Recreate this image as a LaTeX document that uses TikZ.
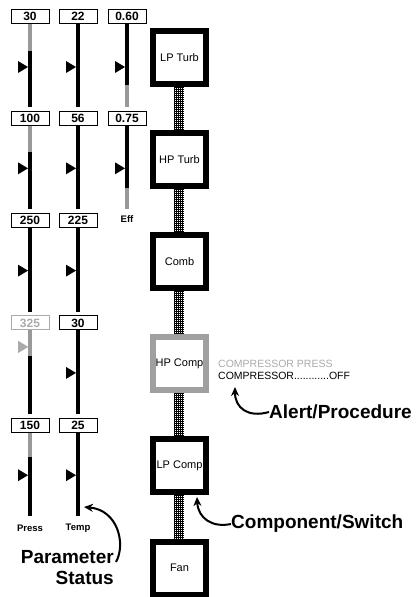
\documentclass[tikz,border=0pt]{standalone}
\usepackage{fontspec}
\setmainfont{Liberation Sans}
\usetikzlibrary{arrows.meta,patterns}
\pgfdeclarepatternformonly{shaftdots}{\pgfpoint{-0.1pt}{-0.1pt}}{\pgfpoint{2.1pt}{2.1pt}}{\pgfpoint{2pt}{2pt}}{\pgfpathrectangle{\pgfpoint{0.6pt}{0.6pt}}{\pgfpoint{0.8pt}{0.8pt}}\pgfusepath{fill}}
\definecolor{bargray}{HTML}{999999}
\definecolor{dimgray}{HTML}{AAAAAA}
\definecolor{compgray}{HTML}{A0A0A0}
\tikzset{
  valbox/.style={draw, line width=1pt, fill=white, minimum width=38pt, minimum height=14pt, inner sep=0pt, font=\fontsize{12}{12}\selectfont\bfseries},
  gbar/.style={line width=4pt},
  comp/.style={draw, line width=6pt, fill=white, minimum size=53pt, inner sep=0pt, font=\fontsize{11}{11}\selectfont},
  collabel/.style={font=\fontsize{9.5}{9.5}\selectfont\bfseries},
  callout/.style={font=\fontsize{19}{21}\selectfont\bfseries, inner sep=0pt},
  alarmtext/.style={font=\fontsize{10.5}{10.5}\selectfont, inner sep=0pt, anchor=west},
  callarrow/.style={line width=2pt, -{Stealth[length=9pt,width=8pt]}},
}
% #1 name, #2 x, #3 row top, #4 value, #5 pointer offset, #6 colour
\newcommand{\mygauge}[6]{%
  \node[valbox, draw=#6, text=#6] (#1) at (#2,#3+7) {#4};
  \coordinate (#1b) at (#2,#3+98);
  \draw[gbar] (#1.south) -- (#1b);
  \fill[#6] (#2-2,#3+#5) -- (#2-12,#3+#5-6) -- (#2-12,#3+#5+6) -- cycle;
}
\begin{document}
\begin{tikzpicture}[x=1pt,y=-1pt]
\useasboundingbox (0,0) rectangle (416,597);
% parameter gauges
\mygauge{p1}{30}{9}{30}{58}{black}
\mygauge{t1}{78}{9}{22}{58}{black}
\mygauge{e1}{127}{9}{0.60}{58}{black}
\mygauge{p2}{30}{111.3}{100}{57}{black}
\mygauge{t2}{78}{111.3}{56}{57}{black}
\mygauge{e2}{127}{111.3}{0.75}{57}{black}
\mygauge{p3}{30}{213.6}{250}{57}{black}
\mygauge{t3}{78}{213.6}{225}{57}{black}
\mygauge{p4}{30}{315.9}{325}{31}{dimgray}
\mygauge{t4}{78}{315.9}{30}{57}{black}
\mygauge{p5}{30}{418.2}{150}{57}{black}
\mygauge{t5}{78}{418.2}{25}{57}{black}
% grey bar segments
\draw[gbar, bargray] (p1.south) -- ++(0,27);
\draw[gbar, bargray] (p2.south) -- ++(0,26);
\draw[gbar, bargray] (p4.south) -- ++(0,26);
\draw[gbar, bargray] (p5.south) -- ++(0,24);
\draw[gbar, bargray] (e1b) -- ++(0,-22);
\draw[gbar, bargray] (e2b) -- ++(0,-21);
% re-draw grey pointer over bar
\fill[dimgray] (28,346.9) -- (18,340.9) -- (18,352.9) -- cycle;
% column labels
\node[collabel] (press) at (30,528) {Press};
\node[collabel] (temp) at (78,528) {Temp};
\node[collabel] (eff) at (127,219) {Eff};
% shaft
\fill (174,87) rectangle (184,539);
\fill[pattern=shaftdots, pattern color=white] (174,87) rectangle (184,539);
% components
\node[comp] (lpt) at (179.5,57.5) {LP Turb};
\node[comp] (hpt) at (179.5,159.6) {HP Turb};
\node[comp] (comb) at (179.5,261.7) {Comb};
\node[comp, draw=compgray] (hpc) at (179.5,363.8) {HP Comp};
\node[comp] (lpc) at (179.5,465.9) {LP Comp};
\node[comp] (fan) at (179.5,568) {Fan};
% alarm text
\node[alarmtext, text=dimgray] (al1) at (218,364) {COMPRESSOR PRESS};
\node[alarmtext] (al2) at (218,376) {COMPRESSOR............OFF};
% callouts
\node[callout, anchor=west] (alert) at (269,412) {Alert/Procedure};
\coordinate (alerttip) at (235,387);
\draw[callarrow] (alert.west) .. controls (248,418) and (235,408) .. (alerttip);
\node[callout, anchor=west] (compsw) at (231,524) {Component/Switch};
\coordinate (comptip) at (197,497);
\draw[callarrow] (compsw.west) .. controls (212,528) and (198,518) .. (comptip);
\node[callout, align=right, anchor=north east] (param) at (114,550) {Parameter\\Status};
\coordinate (paramstart) at (116,562);
\coordinate (paramtip) at (84,507);
\draw[callarrow] (paramstart) .. controls (126,544) and (118,510) .. (paramtip);
\end{tikzpicture}
\end{document}
